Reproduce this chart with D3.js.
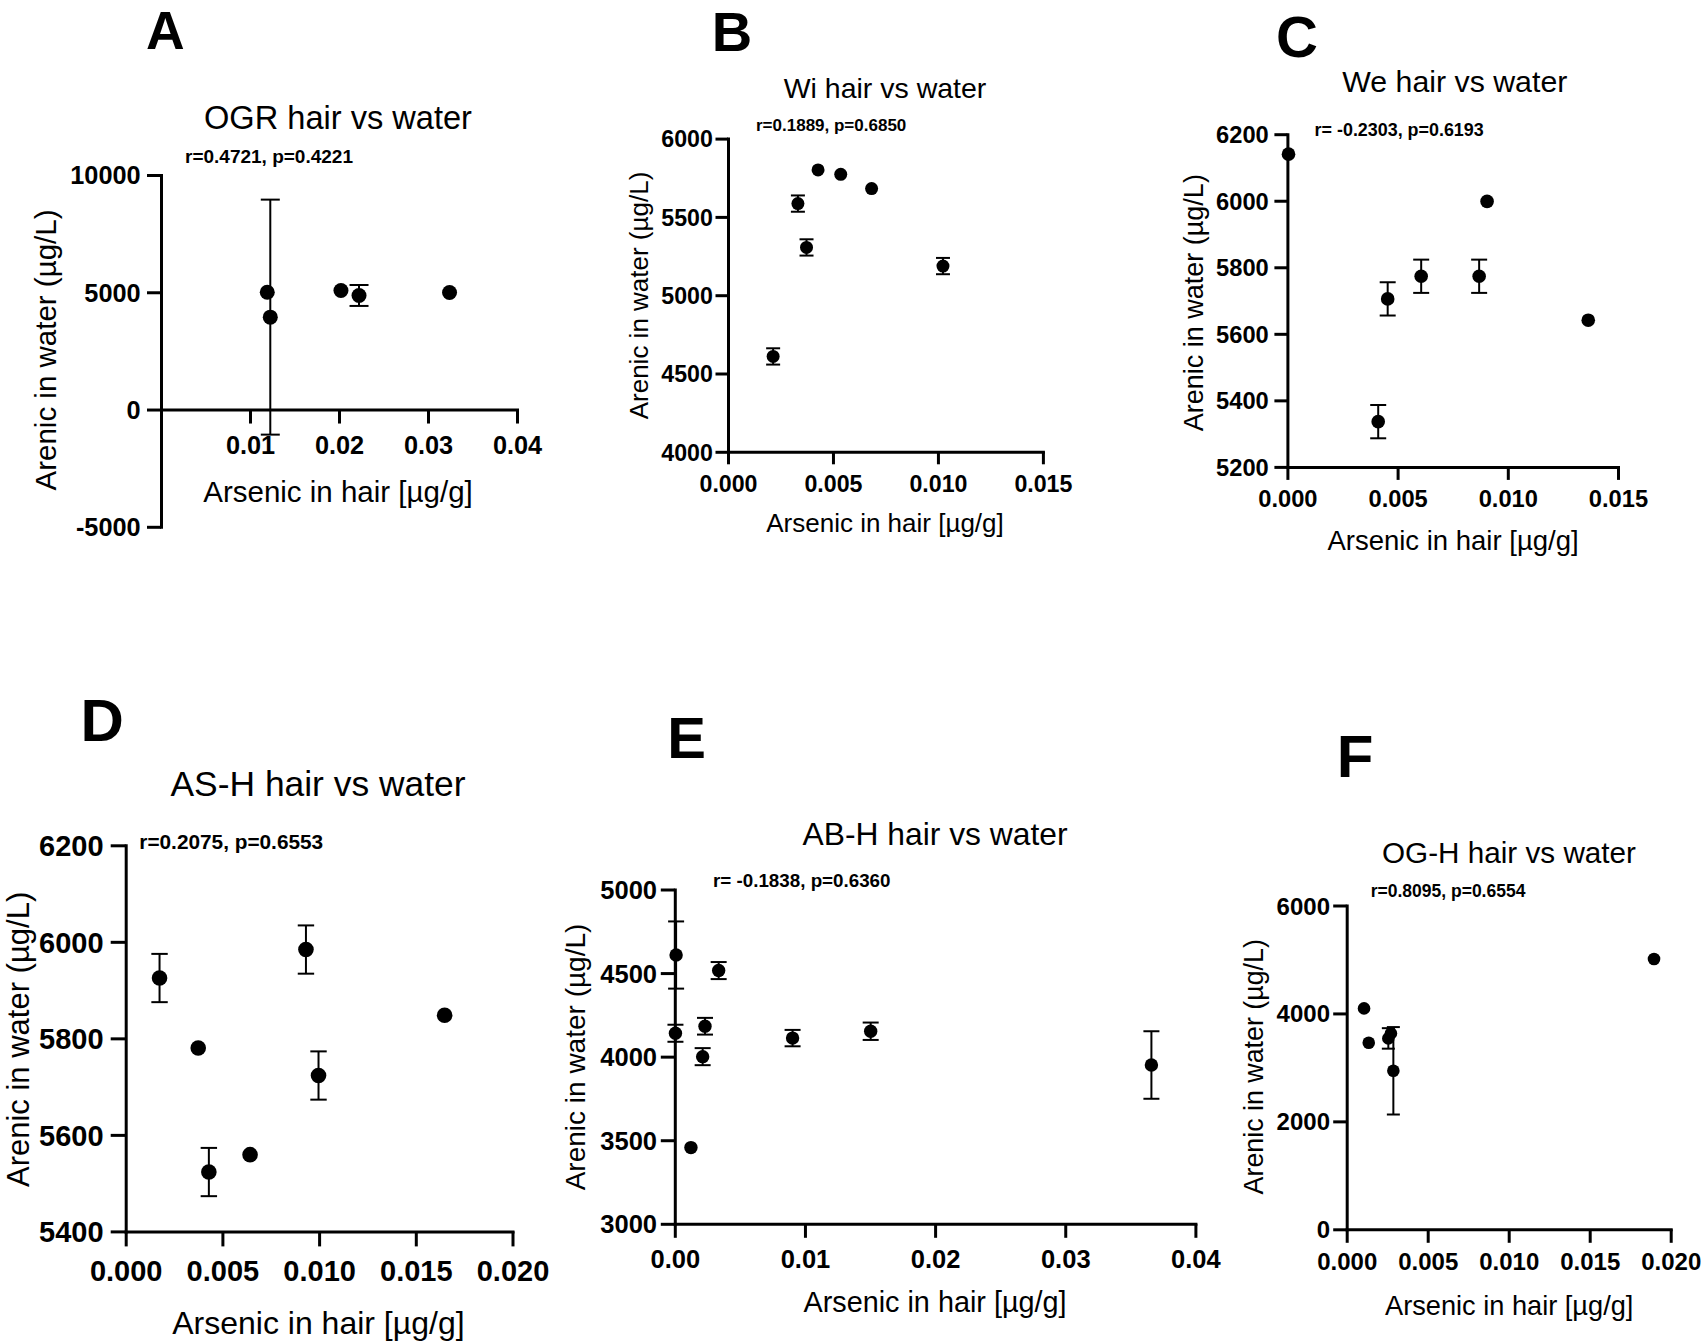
<!DOCTYPE html>
<html>
<head>
<meta charset="utf-8">
<script src="https://cdn.jsdelivr.net/npm/d3@7/dist/d3.min.js"></script>
<style>
  html, body { margin: 0; padding: 0; background: #fff; }
  svg { display: block; }
  text { font-family: "Liberation Sans", Arial, Helvetica, sans-serif; fill: #000; }
</style>
</head>
<body>
<svg id="chart" width="1701" height="1341"></svg>
<script>
// ---------------- DATA ----------------
// A: OGR
const aX   = [0.01194, 0.01228, 0.02022, 0.02225, 0.03242];
const aY   = [5000, 3940, 5077, 4864, 4987];
const aErr = [0, 5010, 0, 447, 0];
const aXTicks = [0.01, 0.02, 0.03, 0.04];
const aYTicks = [-5000, 0, 5000, 10000];

// B: Wi
const bX   = [0.00215, 0.00333, 0.00374, 0.00429, 0.00537, 0.00684, 0.01024];
const bY   = [4609, 5585, 5305, 5800, 5772, 5681, 5186];
const bErr = [52, 52, 52, 0, 0, 0, 52];
const bXTicks = [0, 0.005, 0.010, 0.015];
const bYTicks = [4000, 4500, 5000, 5500, 6000];

// C: We
const cX   = [0.00005, 0.00412, 0.00455, 0.00607, 0.0087, 0.00906, 0.01365];
const cY   = [6140, 5336, 5705, 5773, 5773, 5998, 5641];
const cErr = [0, 50, 50, 50, 50, 0, 0];
const cXTicks = [0, 0.005, 0.010, 0.015];
const cYTicks = [5200, 5400, 5600, 5800, 6000, 6200];

// D: AS-H
const dX   = [0.00175, 0.00375, 0.0043, 0.00643, 0.00932, 0.00997, 0.01649];
const dY   = [5925, 5780, 5523, 5559, 5984, 5723, 5848];
const dErr = [50, 0, 50, 0, 50, 50, 0];
const dXTicks = [0, 0.005, 0.010, 0.015, 0.020];
const dYTicks = [5400, 5600, 5800, 6000, 6200];

// E: AB-H
const eX   = [0.0001, 0.00005, 0.00124, 0.00214, 0.00232, 0.00337, 0.00905, 0.01505, 0.03662];
const eY   = [4608, 4140, 3456, 4000, 4182, 4515, 4111, 4152, 3950];
const eErr = [201, 51, 0, 51, 50, 51, 49, 52, 202];
const eXTicks = [0, 0.01, 0.02, 0.03, 0.04];
const eYTicks = [3000, 3500, 4000, 4500, 5000];

// F: OG-H
const fX   = [0.00107, 0.00136, 0.00257, 0.00273, 0.00288, 0.01897];
const fY   = [4093, 3456, 3537, 3630, 2937, 5008];
const fErr = [0, 0, 190, 0, 810, 0];
const fXTicks = [0, 0.005, 0.010, 0.015, 0.020];
const fYTicks = [0, 2000, 4000, 6000];

const letters = ["A", "B", "C", "D", "E", "F"];
const titles = ["OGR hair vs water", "Wi hair vs water", "We hair vs water",
                "AS-H hair vs water", "AB-H hair vs water", "OG-H hair vs water"];
const stats = ["r=0.4721, p=0.4221", "r=0.1889, p=0.6850", "r= -0.2303, p=0.6193",
               "r=0.2075, p=0.6553", "r= -0.1838, p=0.6360", "r=0.8095, p=0.6554"];
const xLabel = "Arsenic in hair [\u00B5g/g]";
const yLabel = "Arenic in water (\u00B5g/L)";

// ---------------- LAYOUT ----------------
const panels = [
  { x: aX, y: aY, e: aErr, xt: aXTicks, yt: aYTicks, xfmt: ".2f",
    xd: [0, 0.04], xr: [161, 517], yd: [-5000, 10000], yr: [526.8, 175], xAxisAt: 0,
    letter: [146, 49, 53.5], title: [338, 128.6, 32.6], stat: [185, 162.5, 19],
    tickFs: 25.3, yLabRight: 140.6, xLabBase: 44.3, tickLen: 14,
    ylab: [55.5, 350, 29.5], xlab: [338, 501.8, 29.5], r: 7.5, cap: 9.5 },
  { x: bX, y: bY, e: bErr, xt: bXTicks, yt: bYTicks, xfmt: ".3f",
    xd: [0, 0.015], xr: [728, 1042.9], yd: [4000, 6000], yr: [451.8, 138.6],
    letter: [711.8, 51, 56], title: [885, 98.2, 28.5], stat: [756, 131.4, 17],
    tickFs: 23.2, yLabRight: 712.9, xLabBase: 40.2, tickLen: 12.5,
    ylab: [647.5, 295.5, 26], xlab: [885, 532, 26], r: 6.5, cap: 7 },
  { x: cX, y: cY, e: cErr, xt: cXTicks, yt: cYTicks, xfmt: ".3f",
    xd: [0, 0.015], xr: [1287.4, 1618], yd: [5200, 6200], yr: [466.9, 134.2],
    letter: [1276, 57, 58], title: [1454.8, 92.1, 30.3], stat: [1314.6, 136.4, 17.9],
    tickFs: 23.7, yLabRight: 1268.8, xLabBase: 40.1, tickLen: 13,
    ylab: [1202.6, 302.7, 27], xlab: [1453, 550, 27.5], r: 6.8, cap: 8 },
  { x: dX, y: dY, e: dErr, xt: dXTicks, yt: dYTicks, xfmt: ".3f",
    xd: [0, 0.020], xr: [125.7, 512.5], yd: [5400, 6200], yr: [1231.4, 845.3],
    letter: [80.4, 741, 60], title: [318, 795.9, 35.4], stat: [139.3, 848.6, 20.8],
    tickFs: 29, yLabRight: 103.6, xLabBase: 49.4, tickLen: 15,
    ylab: [28.5, 1039.4, 31], xlab: [318.4, 1333.5, 32], r: 7.8, cap: 8.2 },
  { x: eX, y: eY, e: eErr, xt: eXTicks, yt: eYTicks, xfmt: ".2f",
    xd: [0, 0.04], xr: [674.8, 1195.4], yd: [3000, 5000], yr: [1223.8, 889.5],
    letter: [667.2, 758, 58], title: [935, 845.3, 31.8], stat: [713, 886.6, 18.8],
    tickFs: 25.5, yLabRight: 657, xLabBase: 44.3, tickLen: 14,
    ylab: [584.6, 1057, 28], xlab: [935, 1312.4, 28.8], r: 6.7, cap: 8 },
  { x: fX, y: fY, e: fErr, xt: fXTicks, yt: fYTicks, xfmt: ".3f",
    xd: [0, 0.020], xr: [1346.7, 1670.7], yd: [0, 6000], yr: [1229.3, 905.5],
    letter: [1336.7, 777, 60], title: [1509, 863.4, 29.7], stat: [1370.7, 897.1, 17.5],
    tickFs: 24, yLabRight: 1330, xLabBase: 41, tickLen: 13.5,
    ylab: [1263.3, 1066.8, 26.8], xlab: [1509.2, 1314.5, 27.2], r: 6.3, cap: 6.5 }
];

const svg = d3.select("#chart");
const intFmt = v => String(Math.round(v));   // plain hyphen-minus like the reference

panels.forEach((p, i) => {
  const g = svg.append("g");
  const x = d3.scaleLinear().domain(p.xd).range(p.xr);
  const y = d3.scaleLinear().domain(p.yd).range(p.yr);
  const xAxisY = p.xAxisAt !== undefined ? y(p.xAxisAt) : p.yr[0];
  const yAxisX = p.xr[0];

  // panel letter
  g.append("text").attr("x", p.letter[0]).attr("y", p.letter[1])
    .attr("font-size", p.letter[2]).attr("font-weight", "bold").text(letters[i]);
  // title
  g.append("text").attr("x", p.title[0]).attr("y", p.title[1])
    .attr("text-anchor", "middle").attr("font-size", p.title[2]).text(titles[i]);
  // stats
  g.append("text").attr("x", p.stat[0]).attr("y", p.stat[1])
    .attr("font-size", p.stat[2]).attr("font-weight", "bold").text(stats[i]);

  // Y axis
  const ya = g.append("g").attr("transform", `translate(${yAxisX},0)`)
    .call(d3.axisLeft(y).tickValues(p.yt).tickSize(p.tickLen).tickSizeOuter(0)
      .tickFormat(intFmt));
  // X axis
  const xa = g.append("g").attr("transform", `translate(0,${xAxisY})`)
    .call(d3.axisBottom(x).tickValues(p.xt).tickSize(p.tickLen).tickSizeOuter(0)
      .tickFormat(d3.format(p.xfmt)));

  [ya, xa].forEach(a => {
    a.attr("font-family", null).attr("font-size", null);
    a.select(".domain").attr("stroke", "#000").attr("stroke-width", 3)
      .attr("stroke-linecap", "square");
    a.selectAll(".tick line").attr("stroke", "#000").attr("stroke-width", 3);
    a.selectAll(".tick text")
      .attr("font-size", p.tickFs).attr("font-weight", "bold").attr("fill", "#000");
  });
  ya.selectAll(".tick text").attr("x", p.yLabRight - yAxisX).attr("dy", "0.355em");
  xa.selectAll(".tick text").attr("y", p.xLabBase).attr("dy", 0);

  // axis titles
  g.append("text").attr("transform", `translate(${p.ylab[0]},${p.ylab[1]}) rotate(-90)`)
    .attr("text-anchor", "middle").attr("font-size", p.ylab[2]).text(yLabel);
  g.append("text").attr("x", p.xlab[0]).attr("y", p.xlab[1])
    .attr("text-anchor", "middle").attr("font-size", p.xlab[2]).text(xLabel);

  // data
  const pts = p.x.map((xv, k) => ({ x: xv, y: p.y[k], e: p.e[k] }));
  const eb = g.append("g").attr("stroke", "#000").attr("stroke-width", 2);
  pts.filter(d => d.e > 0).forEach(d => {
    const cx = x(d.x), t = y(d.y + d.e), b = y(d.y - d.e);
    eb.append("line").attr("x1", cx).attr("x2", cx).attr("y1", t).attr("y2", b);
    eb.append("line").attr("x1", cx - p.cap).attr("x2", cx + p.cap).attr("y1", t).attr("y2", t);
    eb.append("line").attr("x1", cx - p.cap).attr("x2", cx + p.cap).attr("y1", b).attr("y2", b);
  });
  g.append("g").selectAll("circle").data(pts).join("circle")
    .attr("cx", d => x(d.x)).attr("cy", d => y(d.y)).attr("r", p.r).attr("fill", "#000");
});
</script>
</body>
</html>
